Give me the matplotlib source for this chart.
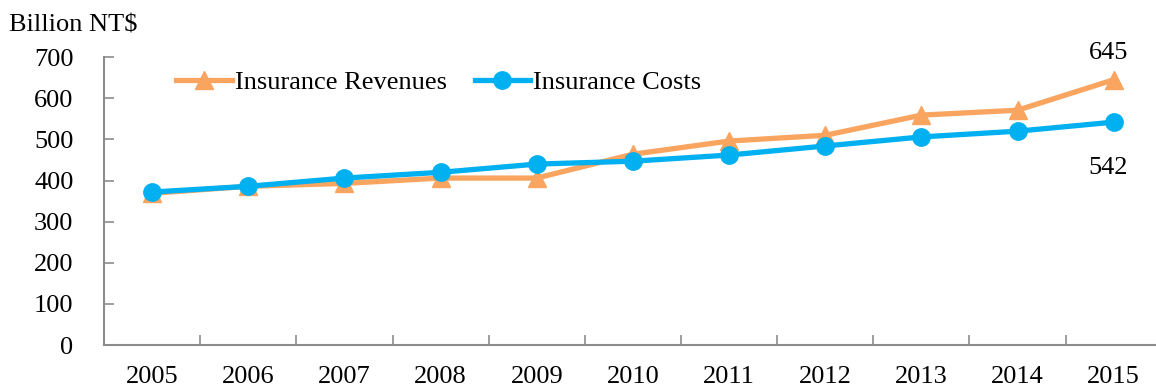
import matplotlib

matplotlib.use("Agg")

import matplotlib.pyplot as plt

plt.rcParams["font.family"] = ["Liberation Serif", "DejaVu Serif"]

years = ["2005", "2006", "2007", "2008", "2009", "2010",
         "2011", "2012", "2013", "2014", "2015"]
revenues = [369, 386, 393, 406, 406, 464, 496, 510, 559, 571, 645]
costs = [372, 386, 406, 420, 440, 447, 462, 484, 506, 520, 542]
yticks = [0, 100, 200, 300, 400, 500, 600, 700]

orange = "#F9A45F"
blue = "#00B0F0"
axis_grey = "#8C8C8C"
fs = 19

fig = plt.figure(figsize=(11.56, 3.86), dpi=100)
ax = fig.add_axes([0.09, 0.106, 0.915, 0.746])

x = list(range(len(years)))
ax.plot(x, revenues, color=orange, linewidth=3.8, marker="^", markersize=12.5,
        label="Insurance Revenues", zorder=3)
ax.plot(x, costs, color=blue, linewidth=3.8, marker="o", markersize=12.5,
        label="Insurance Costs", zorder=4)

ax.set_xlim(-0.5, len(years) - 0.5)
ax.set_ylim(0, 700)
ax.set_yticks(yticks)
ax.set_yticklabels([str(v) for v in yticks], fontsize=fs)

# category labels centred, tick marks between categories
ax.set_xticks(x)
ax.set_xticklabels(years, fontsize=fs)
ax.set_xticks([i + 0.5 for i in x[:-1]], minor=True)
ax.tick_params(axis="x", which="major", length=0, pad=15)
ax.tick_params(axis="x", which="minor", direction="in", length=7,
               color=axis_grey, width=1.2)
ax.tick_params(axis="y", direction="in", length=7, color=axis_grey,
               width=1.2, pad=22)

for side in ("top", "right"):
    ax.spines[side].set_visible(False)
for side in ("left", "bottom"):
    ax.spines[side].set_color(axis_grey)
    ax.spines[side].set_linewidth(1.5)

ax.annotate(str(revenues[-1]), (x[-1], revenues[-1]), textcoords="offset points",
            xytext=(-4, 11), ha="center", va="bottom", fontsize=fs)
ax.annotate(str(costs[-1]), (x[-1], costs[-1]), textcoords="offset points",
            xytext=(-4, -25), ha="center", va="top", fontsize=fs)

fig.text(0.008, 0.935, "Billion NT$", fontsize=fs, ha="left", va="center")

ax.legend(loc="upper left", bbox_to_anchor=(0.046, 1.035), ncol=2, frameon=False,
          fontsize=fs, handlelength=2.1, handletextpad=0.12, columnspacing=1.05)

fig.savefig("out.png", dpi=100)
